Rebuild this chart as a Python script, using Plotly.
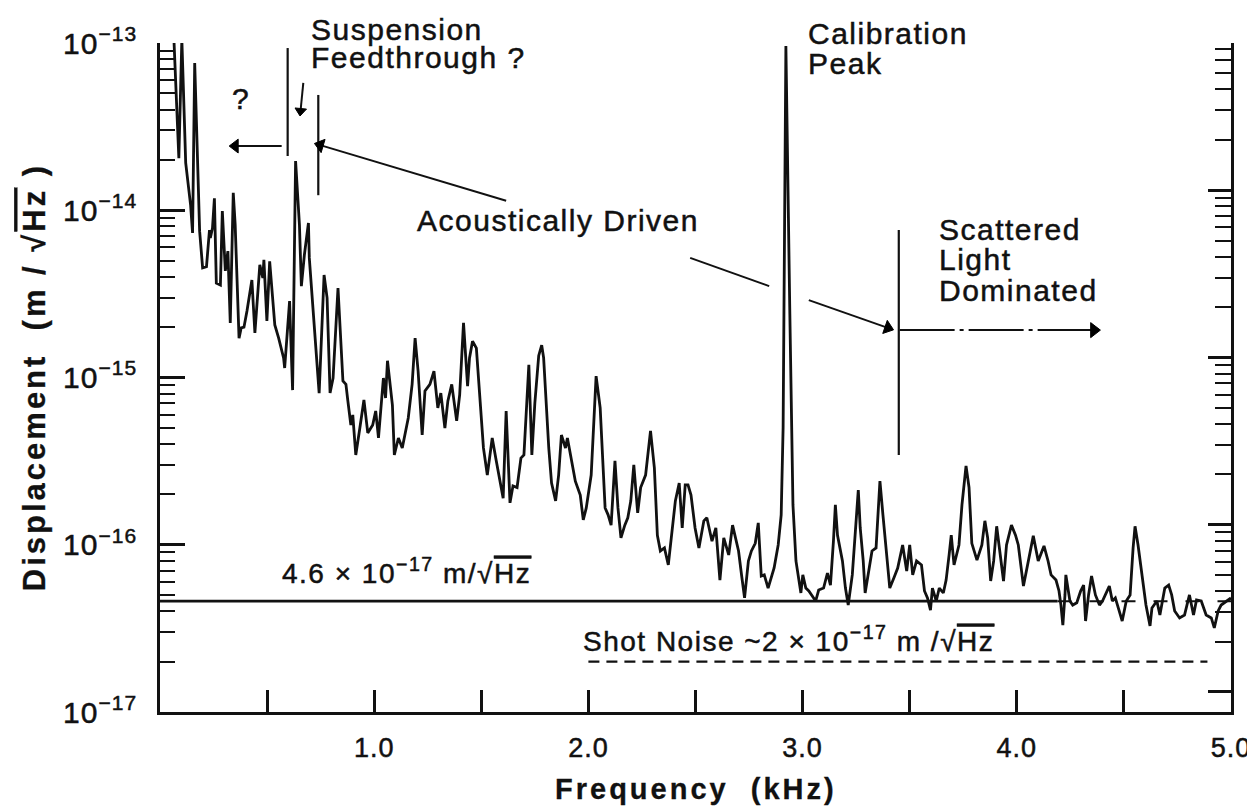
import numpy as np
import plotly.graph_objects as go

# ---------------- data ----------------
freq_khz = [
    0.062, 0.088, 0.102, 0.120, 0.143, 0.152, 0.162, 0.175, 0.185, 0.199,
    0.217, 0.231, 0.235, 0.245, 0.254, 0.263, 0.282, 0.291, 0.305, 0.317,
    0.328, 0.342, 0.351, 0.369, 0.379, 0.392, 0.406, 0.429, 0.443, 0.466,
    0.480, 0.485, 0.499, 0.512, 0.536, 0.554, 0.577, 0.582, 0.605, 0.609,
    0.619, 0.633, 0.646, 0.651, 0.660, 0.674, 0.693, 0.697, 0.743, 0.766,
    0.780, 0.794, 0.808, 0.831, 0.854, 0.868, 0.877, 0.891, 0.900, 0.914,
    0.933, 0.952, 0.970, 0.993, 1.007, 1.020, 1.043, 1.053, 1.062, 1.085,
    1.094, 1.113, 1.131, 1.159, 1.177, 1.191, 1.205, 1.224, 1.237, 1.260,
    1.279, 1.297, 1.311, 1.330, 1.344, 1.362, 1.385, 1.399, 1.417, 1.436,
    1.445, 1.459, 1.477, 1.491, 1.510, 1.528, 1.551, 1.570, 1.602, 1.616,
    1.634, 1.648, 1.667, 1.685, 1.699, 1.722, 1.736, 1.750, 1.768, 1.782,
    1.791, 1.815, 1.828, 1.847, 1.861, 1.874, 1.893, 1.902, 1.916, 1.939,
    1.962, 1.976, 1.990, 2.013, 2.036, 2.055, 2.078, 2.092, 2.106, 2.124,
    2.138, 2.152, 2.170, 2.184, 2.198, 2.212, 2.230, 2.244, 2.267, 2.290,
    2.308, 2.322, 2.336, 2.355, 2.373, 2.392, 2.406, 2.424, 2.438, 2.452,
    2.465, 2.479, 2.498, 2.516, 2.539, 2.553, 2.577, 2.595, 2.614, 2.632,
    2.655, 2.673, 2.687, 2.701, 2.715, 2.729, 2.747, 2.761, 2.779, 2.793,
    2.807, 2.821, 2.839, 2.853, 2.867, 2.886, 2.900, 2.909, 2.922, 2.940,
    2.955, 2.969, 2.982, 2.992, 3.001, 3.015, 3.029, 3.047, 3.061, 3.075,
    3.098, 3.116, 3.130, 3.144, 3.153, 3.163, 3.186, 3.200, 3.213, 3.232,
    3.246, 3.260, 3.269, 3.283, 3.292, 3.306, 3.324, 3.343, 3.361, 3.375,
    3.393, 3.407, 3.426, 3.444, 3.467, 3.486, 3.500, 3.514, 3.532, 3.555,
    3.569, 3.583, 3.597, 3.606, 3.624, 3.638, 3.657, 3.670, 3.684, 3.694,
    3.707, 3.730, 3.744, 3.763, 3.777, 3.790, 3.814, 3.837, 3.851, 3.864,
    3.878, 3.892, 3.906, 3.920, 3.938, 3.952, 3.975, 3.994, 4.007, 4.031,
    4.049, 4.077, 4.100, 4.127, 4.146, 4.160, 4.183, 4.197, 4.206, 4.215,
    4.225, 4.229, 4.248, 4.261, 4.280, 4.298, 4.312, 4.321, 4.335, 4.349,
    4.367, 4.386, 4.400, 4.414, 4.432, 4.446, 4.460, 4.478, 4.492, 4.511,
    4.529, 4.543, 4.552, 4.566, 4.585, 4.603, 4.622, 4.631, 4.654, 4.668,
    4.691, 4.709, 4.723, 4.737, 4.760, 4.783, 4.806, 4.825, 4.839, 4.861,
    4.884, 4.908, 4.922, 4.940, 4.954, 4.977, 5.000,
]

displacement = [
    1.3e-13, 2.05e-14, 1.05e-13, 1.92e-14, 1.07e-14, 7.31e-15, 7.59e-14, 2.05e-14, 7.5e-15, 4.52e-15,
    4.6e-15, 7.62e-15, 6.83e-15, 7.83e-15, 1.18e-14, 3.67e-15, 3.57e-15, 9.9e-15, 4.34e-15, 5.7e-15,
    2.12e-15, 1.27e-14, 8.17e-15, 1.72e-15, 1.98e-15, 2.0e-15, 2.5e-15, 3.83e-15, 1.85e-15, 4.71e-15,
    3.94e-15, 5.05e-15, 2.18e-15, 4.95e-15, 2.06e-15, 1.72e-15, 1.31e-15, 1.14e-15, 2.86e-15, 1.98e-15,
    8.41e-16, 1.97e-14, 9.9e-15, 8.17e-15, 3.52e-15, 5.4e-15, 8.4e-15, 5.19e-15, 8.07e-16, 4.1e-15,
    2.99e-15, 8.07e-16, 9.93e-16, 3.43e-15, 9.53e-16, 9.1e-16, 7.24e-16, 5.2e-16, 5.97e-16, 3.44e-16,
    4.99e-16, 7.34e-16, 4.66e-16, 5.2e-16, 6.31e-16, 4.35e-16, 9.93e-16, 7.54e-16, 1.26e-15, 6.85e-16,
    3.44e-16, 4.35e-16, 3.79e-16, 5.73e-16, 9.1e-16, 1.72e-15, 1.09e-15, 4.53e-16, 8.3e-16, 9.1e-16,
    1.09e-15, 6.58e-16, 8.07e-16, 4.99e-16, 7.24e-16, 9.1e-16, 5.5e-16, 7.86e-16, 2.12e-15, 8.89e-16,
    1.31e-15, 1.65e-15, 1.5e-15, 8.65e-16, 3.79e-16, 2.61e-16, 4.35e-16, 3.17e-16, 1.9e-16, 6.31e-16,
    1.78e-16, 2.25e-16, 2.2e-16, 3.3e-16, 3.44e-16, 1.19e-15, 3.44e-16, 7.04e-16, 1.35e-15, 1.56e-15,
    1.31e-15, 3.79e-16, 2.34e-16, 1.83e-16, 2.61e-16, 4.53e-16, 3.79e-16, 4.35e-16, 3.44e-16, 2.4e-16,
    1.98e-16, 1.41e-16, 1.66e-16, 2.61e-16, 1.02e-15, 6.58e-16, 1.66e-16, 1.51e-16, 1.31e-16, 3.17e-16,
    1.66e-16, 1.1e-16, 1.31e-16, 1.45e-16, 1.83e-16, 3.0e-16, 1.55e-16, 2.2e-16, 2.61e-16, 4.79e-16,
    2.88e-16, 1.14e-16, 9.18e-17, 9.57e-17, 7.57e-17, 1.31e-16, 1.83e-16, 2.34e-16, 1.26e-16, 2.28e-16,
    2.28e-16, 1.98e-16, 1.26e-16, 9.57e-17, 1.39e-16, 1.45e-16, 1.05e-16, 1.26e-16, 6.15e-17, 1.1e-16,
    8.69e-17, 1.31e-16, 1.1e-16, 9.18e-17, 6.59e-17, 4.81e-17, 8.0e-17, 9.18e-17, 1.02e-16, 1.35e-16,
    6.5e-17, 6.6e-17, 5.51e-17, 6.33e-17, 7.26e-17, 9.97e-17, 1.51e-16, 5.0e-16, 9.6e-14, 2.6e-15,
    1.73e-16, 8.0e-17, 6.07e-17, 5.15e-17, 6.6e-17, 5.51e-17, 5.29e-17, 4.94e-17, 4.61e-17, 5.36e-17,
    5.51e-17, 6.78e-17, 5.74e-17, 1.05e-16, 1.73e-16, 1.14e-16, 8.0e-17, 5.51e-17, 4.36e-17, 6.6e-17,
    1.14e-16, 2.12e-16, 1.26e-16, 8.0e-17, 5.15e-17, 6.6e-17, 9.18e-17, 9.57e-17, 2.4e-16, 1.51e-16,
    8.0e-17, 5.51e-17, 6.33e-17, 7.26e-17, 9.97e-17, 6.97e-17, 9.97e-17, 6.6e-17, 8.0e-17, 7.57e-17,
    5.29e-17, 4.81e-17, 4.07e-17, 5.51e-17, 4.61e-17, 5.51e-17, 5.15e-17, 6.15e-17, 8.69e-17, 1.14e-16,
    7.57e-17, 9.97e-17, 1.73e-16, 2.96e-16, 2.2e-16, 1.02e-16, 8.1e-17, 9.97e-17, 1.39e-16, 1.1e-16,
    6.07e-17, 8.0e-17, 1.29e-16, 9.57e-17, 6.07e-17, 9.97e-17, 1.31e-16, 1.14e-16, 9.97e-17, 5.66e-17,
    7.57e-17, 1.13e-16, 8.0e-17, 9.84e-17, 8.0e-17, 6.6e-17, 6.15e-17, 5.29e-17, 4.36e-17, 3.31e-17,
    5.01e-17, 6.6e-17, 4.61e-17, 4.36e-17, 4.5e-17, 5.29e-17, 5.74e-17, 3.5e-17, 5.01e-17, 6.5e-17,
    5.01e-17, 4.36e-17, 4.61e-17, 5.01e-17, 5.66e-17, 4.61e-17, 4.81e-17, 4.02e-17, 3.5e-17, 4.61e-17,
    5.01e-17, 9.57e-17, 1.29e-16, 9.97e-17, 6.6e-17, 4.36e-17, 3.27e-17, 4.19e-17, 4.61e-17, 3.8e-17,
    5.51e-17, 5.74e-17, 5.01e-17, 4.02e-17, 3.65e-17, 3.8e-17, 5.01e-17, 3.8e-17, 4.68e-17, 4.61e-17,
    3.8e-17, 3.65e-17, 3.18e-17, 4.02e-17, 4.36e-17, 4.61e-17, 4.81e-17,
]
assert len(freq_khz) == len(displacement)

floor_level = 4.6e-17          # m/sqrt(Hz)
floor_solid_end_khz = 4.19
shot_noise_level = 2e-17
shot_noise_span_khz = [2.0, 4.89]

x_tick_vals = [1.0, 2.0, 3.0, 4.0, 5.0]
x_tick_text = ["1.0", "2.0", "3.0", "4.0", "5.0"]
x_minor_vals = [0.5, 1.5, 2.5, 3.5, 4.5]
y_major_vals = [1e-17, 1e-16, 1e-15, 1e-14, 1e-13]
y_major_exp = ["−17", "−16", "−15", "−14", "−13"]
y_minor_vals = [m * 10.0 ** e for e in range(-17, -13) for m in range(2, 10)]

# annotation marker positions (kHz, displacement)
qmark_arrow = dict(head=(0.351, 2.42e-14), tail=(0.568, 2.42e-14))
susp_left_bar = dict(x=0.596, y=(9.33e-14, 2.11e-14))
susp_right_bar = dict(x=0.739, y=(4.89e-14, 1.23e-14))
susp_down_arrow = dict(head=(0.656, 3.92e-14), tail=(0.669, 5.77e-14))
acoustic_arrow_low = dict(head=(0.748, 2.45e-14), tail=(1.616, 1.14e-14))
acoustic_line_mid = dict(x=(2.475, 2.844), y=(5.19e-15, 3.52e-15))
acoustic_arrow_high = dict(head=(3.398, 1.98e-15), tail=(3.029, 2.9e-15))
scatter_bar = dict(x=3.449, y=(7.62e-15, 3.44e-16))
scatter_dash = dict(x=(3.453, 4.36), y=1.92e-15)

FONT = "Liberation Sans, Arial, Helvetica, sans-serif"
BLACK = "#111111"


def styled(t, ls=1.5, sw=0.5):
    return f"<span style='letter-spacing:{ls}px;stroke:{BLACK};stroke-width:{sw}px'>{t}</span>"


OVER_HZ = "√<span style='text-decoration:overline'>Hz</span>"

fig = go.Figure()

# main spectrum
fig.add_trace(go.Scatter(x=freq_khz, y=displacement, mode="lines",
                         line=dict(color=BLACK, width=2.8), hoverinfo="skip"))

# 4.6e-17 level line (solid, then dashed through the noise)
fig.add_trace(go.Scatter(x=[0, floor_solid_end_khz], y=[floor_level, floor_level], mode="lines",
                         line=dict(color=BLACK, width=2.6), hoverinfo="skip"))
fig.add_trace(go.Scatter(x=[floor_solid_end_khz, 5.0], y=[floor_level, floor_level], mode="lines",
                         line=dict(color=BLACK, width=2.0, dash="14px,18px"), hoverinfo="skip"))

# shot-noise dashed line
fig.add_trace(go.Scatter(x=shot_noise_span_khz, y=[shot_noise_level] * 2, mode="lines",
                         line=dict(color=BLACK, width=2.2, dash="11px,7px"), hoverinfo="skip"))

# vertical marker bars
for bar in (susp_left_bar, susp_right_bar, scatter_bar):
    fig.add_trace(go.Scatter(x=[bar["x"], bar["x"]], y=list(bar["y"]), mode="lines",
                             line=dict(color=BLACK, width=2.2), hoverinfo="skip"))

# first part of the "Acoustically Driven" pointer
fig.add_trace(go.Scatter(x=list(acoustic_line_mid["x"]), y=list(acoustic_line_mid["y"]), mode="lines",
                         line=dict(color=BLACK, width=2.0), hoverinfo="skip"))

HEAD_MARKER_LINE = dict(width=1.0, color="black")

# dash-dot pointer for scattered light (arrow head drawn as a marker)
fig.add_trace(go.Scatter(x=list(scatter_dash["x"]), y=[scatter_dash["y"]] * 2, mode="lines+markers",
                         line=dict(color=BLACK, width=2.0, dash="55px,5px,4px,5px"),
                         marker=dict(symbol=["circle", "triangle-up"], size=[0, 13], color="black",
                                     opacity=1, angleref="previous", line=HEAD_MARKER_LINE),
                         hoverinfo="skip"))


def arrow_trace(spec, width=2.0, head_size=12):
    (hx, hy), (tx, ty) = spec["head"], spec["tail"]
    fig.add_trace(go.Scatter(x=[tx, hx], y=[ty, hy], mode="lines+markers",
                             line=dict(color=BLACK, width=width),
                             marker=dict(symbol=["circle", "triangle-up"], size=[0, head_size],
                                         color="black", opacity=1, angleref="previous",
                                         line=HEAD_MARKER_LINE),
                             hoverinfo="skip"))


arrow_trace(qmark_arrow)
arrow_trace(susp_down_arrow, head_size=10)
arrow_trace(acoustic_arrow_low)
arrow_trace(acoustic_arrow_high)

# dummy trace for the right-hand axis
fig.add_trace(go.Scatter(x=[2.5], y=[1e-15], yaxis="y2", mode="markers",
                         marker=dict(opacity=0), hoverinfo="skip"))

annotations = []

# plot-area geometry (px) used only to place free text in paper units
PLOT_TOP, PLOT_BOTTOM = 35, 704
TEXT_NUDGE = 9  # px


def label(text, x, y_px, size=30, anchor="left", ls=1.5):
    py = (PLOT_BOTTOM - y_px + TEXT_NUDGE) / (PLOT_BOTTOM - PLOT_TOP)
    annotations.append(dict(x=x, y=py, xref="x", yref="paper", text=styled(text, ls), showarrow=False,
                            xanchor=anchor, yanchor="middle",
                            font=dict(family=FONT, size=size, color=BLACK)))


label("Suspension", 0.697, 30)
label("Feedthrough ?", 0.697, 59)
label("?", 0.374, 100, anchor="center", ls=0)
label("Acoustically Driven", 1.191, 222)
label("Calibration", 3.015, 35)
label("Peak", 3.015, 65)
label("Scattered", 3.629, 230)
label("Light", 3.629, 260)
label("Dominated", 3.629, 291)
label("4.6 × 10<sup>−17</sup> m/" + OVER_HZ, 0.559, 572, size=28, ls=1.5)
label("Shot Noise ~2 × 10<sup>−17</sup> m /" + OVER_HZ, 1.967, 640, size=28, ls=1.5)

# axis titles
annotations.append(dict(x=-0.117, y=0.50, xref="paper", yref="paper", textangle=-90,
                        text="<b>" + styled("Displacement\u00a0\u00a0(m / " + OVER_HZ + " )", 3.0, 0.3) + "</b>",
                        showarrow=False, xanchor="center", yanchor="middle",
                        font=dict(family=FONT, size=31, color=BLACK)))
annotations.append(dict(x=0.5, y=-0.115, xref="paper", yref="paper",
                        text="<b>" + styled("Frequency\u00a0\u00a0(kHz)", 3.0, 0.3) + "</b>",
                        showarrow=False, xanchor="center", yanchor="middle",
                        font=dict(family=FONT, size=29, color=BLACK)))

axis_common = dict(showline=True, linecolor=BLACK, linewidth=2.8, showgrid=False, zeroline=False,
                   ticks="inside", tickcolor=BLACK)

fig.update_layout(
    width=1255, height=810,
    margin=dict(l=152, r=20, t=35, b=106),
    paper_bgcolor="white", plot_bgcolor="white",
    showlegend=False,
    font=dict(family=FONT, color=BLACK, size=26),
    xaxis=dict(range=[0, 5], tickvals=x_tick_vals,
               ticktext=[styled(t, 1.0, 0.5) for t in x_tick_text],
               ticklen=22, tickwidth=2.6, ticklabeloverflow="allow",
               tickfont=dict(size=27, family=FONT, color=BLACK), ticklabelstandoff=10,
               minor=dict(tickvals=x_minor_vals, ticks="inside", ticklen=22, tickwidth=2.6,
                          tickcolor=BLACK, showgrid=False),
               **axis_common),
    yaxis=dict(type="log", range=[-17, -13], tickvals=y_major_vals,
               ticktext=[styled("10<sup>" + e + "</sup>", 1.0, 0.5) for e in y_major_exp],
               ticklen=25, tickwidth=2.8, tickfont=dict(size=30, family=FONT, color=BLACK),
               ticklabelstandoff=14,
               minor=dict(tickvals=y_minor_vals, ticks="inside", ticklen=15, tickwidth=2.4,
                          tickcolor=BLACK, showgrid=False),
               **axis_common),
    yaxis2=dict(type="log", range=[-17.12, -13.12], overlaying="y", side="right", anchor="x",
                tickvals=y_major_vals, showticklabels=False, ticklen=23, tickwidth=2.6,
                minor=dict(tickvals=y_minor_vals, ticks="inside", ticklen=16, tickwidth=2.2,
                           tickcolor=BLACK, showgrid=False),
                **axis_common),
    annotations=annotations,
)

fig.write_html("out.html")
